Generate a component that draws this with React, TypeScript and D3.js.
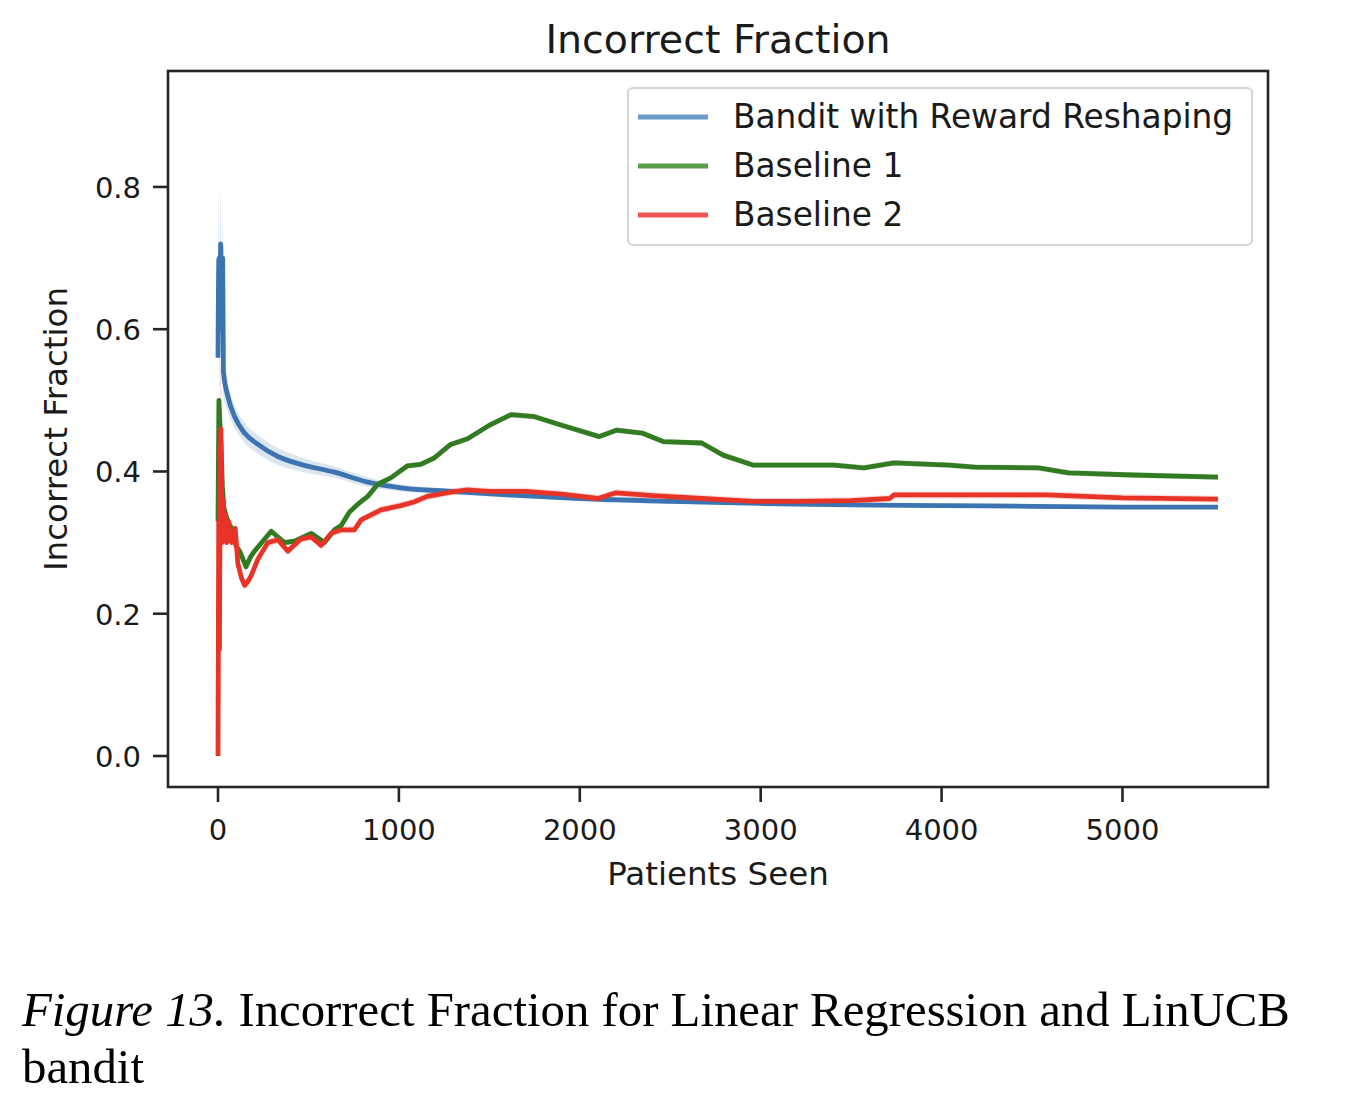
import * as d3 from "d3";

// [patients seen, incorrect fraction, half width of the shaded band]
const banditReshaping: [number, number, number][] = [
  [0, 0.56, 0.06], [5, 0.7, 0.09], [10, 0.6, 0.08], [15, 0.72, 0.08], [21, 0.64, 0.06],
  [26, 0.7, 0.05], [30, 0.54, 0.035], [55, 0.505, 0.022], [92, 0.477, 0.016], [147, 0.454, 0.014],
  [221, 0.438, 0.013], [331, 0.421, 0.012], [458, 0.41, 0.01], [644, 0.399, 0.008],
  [828, 0.385, 0.007], [1010, 0.377, 0.005], [1286, 0.372, 0.004], [1600, 0.367, 0.004],
  [2000, 0.362, 0.003], [2500, 0.358, 0.003], [3000, 0.355, 0.003], [3500, 0.353, 0.003],
  [4000, 0.352, 0.003], [4500, 0.351, 0.003], [5000, 0.35, 0.003], [5528, 0.35, 0.003],
];

const baseline1: [number, number, number][] = [
  [0, 0.33, 0.02], [5, 0.5, 0.02], [12, 0.46, 0.02], [18, 0.43, 0.015], [24, 0.38, 0.012],
  [32, 0.35, 0.01], [42, 0.34, 0.008], [55, 0.33, 0.006], [75, 0.32, 0.005], [100, 0.295, 0.005],
  [120, 0.288, 0.005], [155, 0.266, 0.005], [180, 0.28, 0.005], [202, 0.288, 0.005],
  [258, 0.305, 0.004], [294, 0.316, 0.004], [368, 0.3, 0.004], [423, 0.302, 0.004],
  [515, 0.313, 0.004], [589, 0.3, 0.004], [644, 0.318, 0.004], [681, 0.324, 0.004],
  [727, 0.343, 0.004], [773, 0.354, 0.004], [828, 0.365, 0.004], [883, 0.382, 0.004],
  [955, 0.391, 0.004], [1048, 0.408, 0.004], [1120, 0.41, 0.004], [1196, 0.419, 0.004],
  [1286, 0.438, 0.004], [1380, 0.446, 0.004], [1500, 0.465, 0.004], [1620, 0.48, 0.004],
  [1750, 0.477, 0.004], [1900, 0.465, 0.004], [2108, 0.449, 0.004], [2202, 0.458, 0.004],
  [2344, 0.454, 0.004], [2461, 0.442, 0.004], [2674, 0.44, 0.004], [2792, 0.423, 0.004],
  [2957, 0.409, 0.004], [3405, 0.409, 0.004], [3571, 0.405, 0.004], [3737, 0.412, 0.004],
  [4040, 0.409, 0.004], [4183, 0.406, 0.004], [4536, 0.405, 0.004], [4702, 0.398, 0.004],
  [5055, 0.395, 0.004], [5528, 0.392, 0.004],
];

const baseline2: [number, number, number][] = [
  [0, 0, 0.0], [4, 0.33, 0.15], [8, 0.15, 0.15], [12, 0.42, 0.12], [16, 0.46, 0.1],
  [22, 0.3, 0.05], [28, 0.36, 0.03], [34, 0.31, 0.02], [40, 0.34, 0.015], [48, 0.3, 0.012],
  [58, 0.33, 0.01], [75, 0.3, 0.008], [95, 0.32, 0.007], [110, 0.27, 0.006], [130, 0.25, 0.006],
  [147, 0.24, 0.006], [165, 0.245, 0.006], [184, 0.254, 0.005], [221, 0.277, 0.005],
  [276, 0.3, 0.005], [331, 0.304, 0.005], [386, 0.288, 0.005], [458, 0.305, 0.005],
  [515, 0.308, 0.005], [570, 0.296, 0.005], [626, 0.313, 0.005], [681, 0.318, 0.005],
  [754, 0.318, 0.005], [791, 0.332, 0.005], [901, 0.346, 0.005], [1010, 0.352, 0.005],
  [1083, 0.357, 0.005], [1157, 0.365, 0.005], [1286, 0.371, 0.005], [1378, 0.374, 0.005],
  [1500, 0.372, 0.005], [1700, 0.372, 0.005], [1900, 0.368, 0.005], [2100, 0.362, 0.005],
  [2200, 0.37, 0.005], [2400, 0.366, 0.005], [2674, 0.362, 0.005], [2957, 0.358, 0.005],
  [3200, 0.358, 0.005], [3500, 0.359, 0.005], [3713, 0.362, 0.005], [3737, 0.367, 0.005],
  [4100, 0.367, 0.005], [4583, 0.367, 0.005], [5000, 0.363, 0.005], [5528, 0.361, 0.005],
];

const seriesNames = ["Bandit with Reward Reshaping", "Baseline 1", "Baseline 2"];
const lineColors = ["#3b74b0", "#337b22", "#e83427"];
const legendColors = ["#6a9bc9", "#5aa04a", "#ee5550"];

const xTicks = [0, 1000, 2000, 3000, 4000, 5000];
const yTicks = [0.0, 0.2, 0.4, 0.6, 0.8];

const W = 1348;
const H = 1094;
const plot = { left: 168, right: 1268, top: 71, bottom: 787 };
const sans = "'DejaVu Sans', sans-serif";
const serif = "'Liberation Serif', 'Times New Roman', serif";

export default function App() {
  const x = d3.scaleLinear().domain([-276.4, 5804.4]).range([plot.left, plot.right]);
  const y = d3.scaleLinear().domain([-0.0436, 0.963]).range([plot.bottom, plot.top]);

  const all = [banditReshaping, baseline1, baseline2];
  const curves = [d3.curveMonotoneX, d3.curveLinear, d3.curveLinear];

  return (
    <svg width={W} height={H} style={{ position: "absolute", left: 0, top: 0, background: "#fff" }}>
      <defs>
        <clipPath id="plotClip">
          <rect x={plot.left} y={plot.top} width={plot.right - plot.left} height={plot.bottom - plot.top} />
        </clipPath>
      </defs>

      <text x={(plot.left + plot.right) / 2} y={53} textAnchor="middle" fontFamily={sans} fontSize={39.5} fill="#1a1a1a">
        Incorrect Fraction
      </text>

      <g clipPath="url(#plotClip)">
        {all.map((data, i) => {
          const band = d3
            .area<[number, number, number]>()
            .x((d) => x(d[0]))
            .y0((d) => y(Math.max(0, d[1] - d[2])))
            .y1((d) => y(d[1] + d[2]))
            .curve(curves[i]);
          return <path key={"b" + i} d={band(data)!} fill={lineColors[i]} opacity={0.18} />;
        })}
        {all.map((data, i) => {
          const line = d3
            .line<[number, number, number]>()
            .x((d) => x(d[0]))
            .y((d) => y(d[1]))
            .curve(curves[i]);
          return (
            <path key={"l" + i} d={line(data)!} fill="none" stroke={lineColors[i]} strokeWidth={4.8} strokeLinejoin="round" />
          );
        })}
      </g>

      <rect
        x={plot.left}
        y={plot.top}
        width={plot.right - plot.left}
        height={plot.bottom - plot.top}
        fill="none"
        stroke="#262626"
        strokeWidth={2.6}
      />

      {yTicks.map((t) => (
        <g key={"y" + t} transform={`translate(0,${y(t)})`}>
          <line x1={plot.left - 15} x2={plot.left} stroke="#262626" strokeWidth={2.6} />
          <text x={plot.left - 27} y={11} textAnchor="end" fontFamily={sans} fontSize={29} fill="#1a1a1a">
            {d3.format(".1f")(t)}
          </text>
        </g>
      ))}

      {xTicks.map((t) => (
        <g key={"x" + t} transform={`translate(${x(t)},0)`}>
          <line y1={plot.bottom} y2={plot.bottom + 15} stroke="#262626" strokeWidth={2.6} />
          <text y={840} textAnchor="middle" fontFamily={sans} fontSize={29} fill="#1a1a1a">
            {t}
          </text>
        </g>
      ))}

      <text x={(plot.left + plot.right) / 2} y={885} textAnchor="middle" fontFamily={sans} fontSize={32.5} fill="#1a1a1a">
        Patients Seen
      </text>
      <text
        transform={`translate(67,${(plot.top + plot.bottom) / 2}) rotate(-90)`}
        textAnchor="middle"
        fontFamily={sans}
        fontSize={32.5}
        fill="#1a1a1a"
      >
        Incorrect Fraction
      </text>

      <g>
        <rect x={628} y={88} width={624} height={157} rx={5} fill="#fff" fillOpacity={0.8} stroke="#d6d6d6" strokeWidth={2.2} />
        {seriesNames.map((name, i) => (
          <g key={name} transform={`translate(0,${117 + i * 49})`}>
            <line x1={638} x2={708} stroke={legendColors[i]} strokeWidth={5} />
            <text x={733} y={11} fontFamily={sans} fontSize={32.8} fill="#1a1a1a">
              {name}
            </text>
          </g>
        ))}
      </g>

      <text x={22} y={1026} fontFamily={serif} fontSize={48.8} fill="#000">
        <tspan fontStyle="italic">Figure 13.</tspan> Incorrect Fraction for Linear Regression and LinUCB
      </text>
      <text x={22} y={1083} fontFamily={serif} fontSize={48.8} fill="#000">
        bandit
      </text>
    </svg>
  );
}
